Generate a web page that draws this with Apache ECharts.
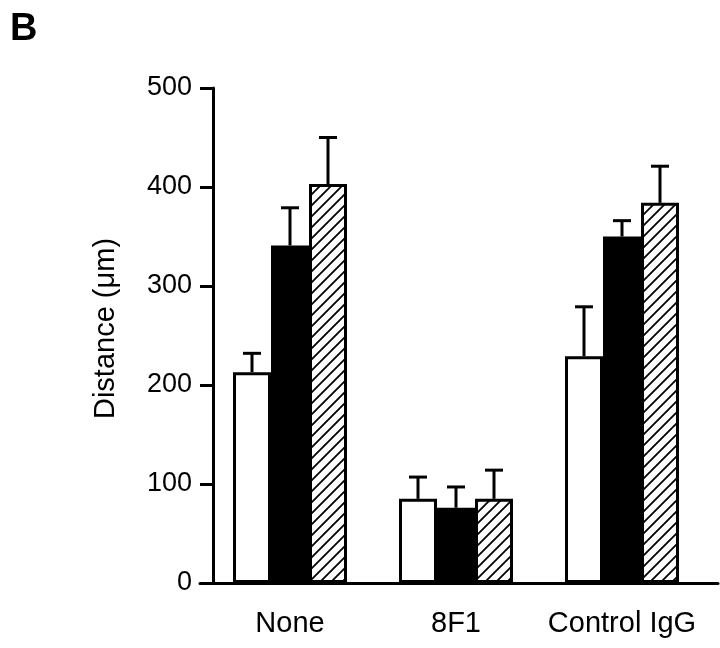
<!DOCTYPE html>
<html><head><meta charset="utf-8">
<script src="https://cdn.jsdelivr.net/npm/echarts@6/dist/echarts.min.js"></script>
<style>html,body{margin:0;padding:0;background:#fff}#c{width:720px;height:648px}</style>
</head><body><div id="c"></div>
<script>
const categories = ['None', '8F1', 'Control IgG'];
const openValues = [213, 85, 229];
const openErrors = [19, 22, 50];
const solidValues = [341, 76, 350];
const solidErrors = [38, 21, 16];
const hatchedValues = [403, 85, 384];
const hatchedErrors = [47, 29, 37];
const yTicks = [0, 100, 200, 300, 400, 500];

const FONT = 'Liberation Sans, Arial, Helvetica, sans-serif';
const BAR_W = 38;
const CAP = 18;
const LW = 3;

function hatchPattern() {
  const s = 11;
  const c = document.createElement('canvas');
  c.width = s; c.height = s;
  const g = c.getContext('2d');
  g.fillStyle = '#fff'; g.fillRect(0, 0, s, s);
  g.strokeStyle = '#000'; g.lineWidth = 1.8; g.beginPath();
  [-s, 0, s].forEach(o => { g.moveTo(o - 2, s + 2); g.lineTo(o + s + 2, -2); });
  g.stroke();
  return c;
}

function errSeries(name, vals, errs, idx) {
  return {
    type: 'custom', name: name, z: 5, silent: true,
    data: vals.map((v, i) => [i, v, v + errs[i]]),
    encode: { x: 0, y: [1, 2] },
    renderItem: function (params, api) {
      const base = api.coord([api.value(0), api.value(1)]);
      const top = api.coord([api.value(0), api.value(2)]);
      const x = base[0] + (idx - 1) * BAR_W;
      const st = { stroke: '#000', lineWidth: LW };
      return { type: 'group', children: [
        { type: 'line', shape: { x1: x, y1: base[1], x2: x, y2: top[1] }, style: st },
        { type: 'line', shape: { x1: x - CAP / 2, y1: top[1], x2: x + CAP / 2, y2: top[1] }, style: st }
      ]};
    }
  };
}

const chart = echarts.init(document.getElementById('c'), null, { renderer: 'canvas' });
const barBase = { type: 'bar', barWidth: BAR_W, barGap: '0%', silent: true,
  itemStyle: { borderColor: '#000', borderWidth: LW } };

chart.setOption({
  animation: false,
  backgroundColor: '#fff',
  textStyle: { fontFamily: FONT, color: '#000' },
  title: { text: 'B', left: 5, top: 6, textStyle: { fontSize: 38, fontWeight: 'bold', color: '#000', fontFamily: FONT } },
  grid: [
    { left: 207, right: 15, top: 88, bottom: 65 },
    { left: 200, right: 2, top: 88, bottom: 65 }
  ],
  xAxis: [
    { type: 'category', data: categories, gridIndex: 0,
      axisLine: { show: false }, axisTick: { show: false },
      axisLabel: { interval: 0, fontSize: 29, color: '#000', margin: 26, fontFamily: FONT } },
    { type: 'value', gridIndex: 1, min: 0, max: 1,
      axisLine: { show: true, lineStyle: { color: '#000', width: LW } },
      axisTick: { show: false }, axisLabel: { show: false }, splitLine: { show: false } }
  ],
  yAxis: [
    { type: 'value', gridIndex: 0, min: yTicks[0], max: yTicks[yTicks.length - 1], interval: 100, offset: -6,
      name: 'Distance (\u03bcm)', nameLocation: 'middle', nameGap: 93,
      nameTextStyle: { fontSize: 29, color: '#000', fontFamily: FONT, padding: [0, 0, 0, 14] },
      axisLine: { show: true, lineStyle: { color: '#000', width: LW } },
      axisTick: { show: true, length: 13, lineStyle: { color: '#000', width: LW } },
      axisLabel: { fontSize: 27, color: '#000', margin: 21, fontFamily: FONT },
      splitLine: { show: false } },
    { type: 'value', gridIndex: 1, show: false, min: 0, max: 1 }
  ],
  series: [
    Object.assign({}, barBase, { name: 'Open', data: openValues, itemStyle: Object.assign({}, barBase.itemStyle, { color: '#fff' }) }),
    Object.assign({}, barBase, { name: 'Solid', data: solidValues, itemStyle: Object.assign({}, barBase.itemStyle, { color: '#000' }) }),
    Object.assign({}, barBase, { name: 'Hatched', data: hatchedValues, itemStyle: Object.assign({}, barBase.itemStyle, { color: { image: hatchPattern(), repeat: 'repeat' } }) }),
    errSeries('Open error', openValues, openErrors, 0),
    errSeries('Solid error', solidValues, solidErrors, 1),
    errSeries('Hatched error', hatchedValues, hatchedErrors, 2)
  ]
});
</script></body></html>
